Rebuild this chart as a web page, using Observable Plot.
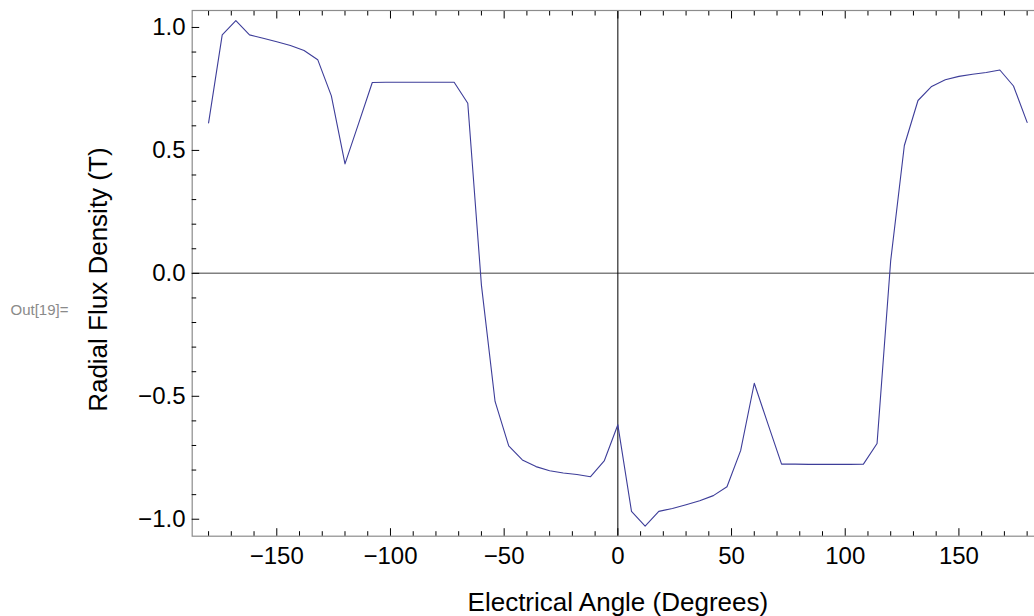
<!DOCTYPE html>
<html>
<head>
<meta charset="utf-8">
<script src="https://cdn.jsdelivr.net/npm/d3@7"></script>
<script src="https://cdn.jsdelivr.net/npm/@observablehq/plot@0.6"></script>
<style>
  html, body { margin: 0; padding: 0; background: #fff; overflow: hidden; }
  #chart { width: 1034px; height: 616px; overflow: hidden; }
  #chart svg { max-width: none !important; display: block; }
</style>
</head>
<body>
<div id="chart"></div>
<script>
const angles = [
  -180, -174, -168, -162, -156, -150, -144, -138, -132, -126,
  -120, -114, -108, -102, -96, -90, -84, -78, -72, -66,
  -60, -54, -48, -42, -36, -30, -24, -18, -12, -6,
  0, 6, 12, 18, 24, 30, 36, 42, 48, 54,
  60, 66, 72, 78, 84, 90, 96, 102, 108, 114,
  120, 126, 132, 138, 144, 150, 156, 162, 168, 174, 180
];
const fluxDensity = [
  0.612, 0.970, 1.028, 0.970, 0.956, 0.942, 0.927, 0.906, 0.869, 0.722,
  0.445, 0.610, 0.776, 0.777, 0.777, 0.777, 0.777, 0.777, 0.777, 0.692,
  -0.048, -0.521, -0.702, -0.759, -0.786, -0.803, -0.812, -0.818, -0.827, -0.763,
  -0.616, -0.968, -1.028, -0.968, -0.956, -0.941, -0.925, -0.904, -0.868, -0.721,
  -0.447, -0.612, -0.776, -0.776, -0.777, -0.777, -0.777, -0.777, -0.776, -0.692,
  0.052, 0.520, 0.703, 0.760, 0.787, 0.801, 0.810, 0.817, 0.827, 0.762, 0.614
];
const xMajorTicks = [-150, -100, -50, 0, 50, 100, 150];
const xMinorTicks = [-180, -170, -160, -140, -130, -120, -110, -90, -80, -70, -60, -40, -30, -20, -10,
                     10, 20, 30, 40, 60, 70, 80, 90, 110, 120, 130, 140, 160, 170, 180];
const yMajorTicks = [-1.0, -0.5, 0.0, 0.5, 1.0];
const yMinorTicks = [-0.9, -0.8, -0.7, -0.6, -0.4, -0.3, -0.2, -0.1, 0.1, 0.2, 0.3, 0.4, 0.6, 0.7, 0.8, 0.9];
const xLabel = "Electrical Angle (Degrees)";
const yLabel = "Radial Flux Density (T)";
const outLabel = "Out[19]=";

const data = angles.map((a, i) => ({angle: a, b: fluxDensity[i]}));
const fmtX = d => (d < 0 ? "\u2212" : "") + Math.abs(d);
const fmtY = d => (d < 0 ? "\u2212" : "") + Math.abs(d).toFixed(1);

const font = "'Liberation Sans', Arial, sans-serif";

const chart = Plot.plot({
  width: 1052,
  height: 616,
  marginLeft: 191.7,
  marginRight: 9,
  marginTop: 10,
  marginBottom: 80.3,
  style: {fontFamily: font, background: "white", color: "black", overflow: "visible", maxWidth: "none"},
  x: {domain: [-187.2, 187.2]},
  y: {domain: [-1.069, 1.069]},
  marks: [
    Plot.ruleY([0], {stroke: "#808080", strokeWidth: 1.5}),
    Plot.ruleX([0], {stroke: "black", strokeWidth: 1}),
    Plot.line(data, {x: "angle", y: "b", stroke: "#3d3d99", strokeWidth: 1.1}),
    Plot.frame({stroke: "#8c8c8c", strokeWidth: 1.2}),
    // x tick labels
    Plot.axisX({ticks: xMajorTicks, tickSize: 0, tickPadding: 11, tickFormat: fmtX, fontSize: 24, label: null}),
    // bottom ticks (inward)
    Plot.axisX({ticks: xMajorTicks, tickSize: 7.5, text: null, dy: -7.5, stroke: "black", label: null}),
    Plot.axisX({ticks: xMinorTicks, tickSize: 4.5, text: null, dy: -4.5, stroke: "black", label: null}),
    // top ticks (inward)
    Plot.axisX({anchor: "top", ticks: xMajorTicks, tickSize: 7.5, text: null, dy: 7.5, stroke: "black", label: null}),
    Plot.axisX({anchor: "top", ticks: xMinorTicks, tickSize: 4.5, text: null, dy: 4.5, stroke: "black", label: null}),
    // y tick labels
    Plot.axisY({ticks: yMajorTicks, tickSize: 0, tickPadding: 6.7, tickFormat: fmtY, fontSize: 24, label: null}),
    // left ticks (inward)
    Plot.axisY({ticks: yMajorTicks, tickSize: 7.5, text: null, dx: 7.5, stroke: "black", label: null}),
    Plot.axisY({ticks: yMinorTicks, tickSize: 4.5, text: null, dx: 4.5, stroke: "black", label: null}),
    // axis titles
    Plot.text([xLabel], {frameAnchor: "bottom", text: d => d, fontSize: 26, textAnchor: "middle", lineAnchor: "middle", dy: 66, fill: "black"}),
    Plot.text([yLabel], {frameAnchor: "left", text: d => d, fontSize: 26, rotate: -90, textAnchor: "middle", lineAnchor: "middle", dx: -93.5, dy: 6.3, fill: "black"}),
    Plot.text([outLabel], {frameAnchor: "left", text: d => d, fontSize: 15, textAnchor: "start", lineAnchor: "middle", dx: -181.7, dy: 36.9, fill: "#8a8a8a"})
  ]
});
document.getElementById("chart").appendChild(chart);
</script>
</body>
</html>
